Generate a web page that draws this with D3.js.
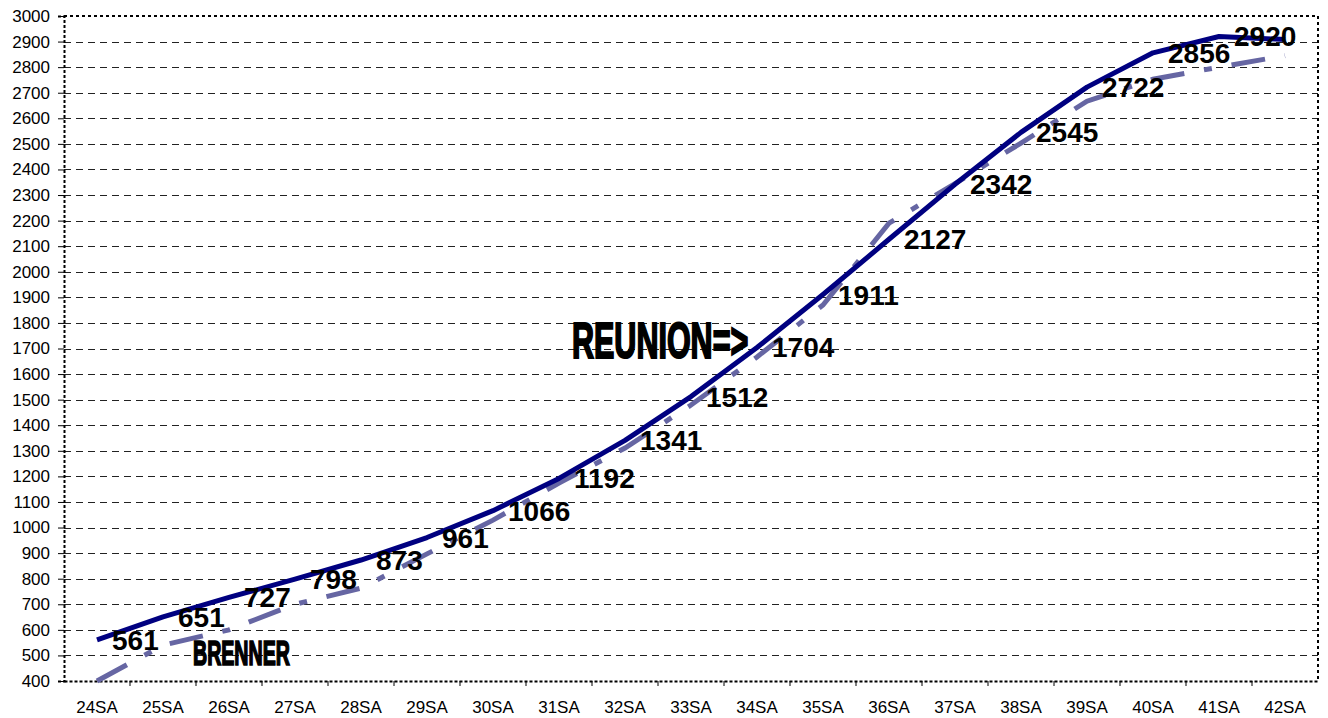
<!DOCTYPE html>
<html>
<head>
<meta charset="utf-8">
<script src="https://cdn.jsdelivr.net/npm/d3@7"></script>
<style>
  body { margin: 0; background: #fff; }
  svg { display: block; font-family: Arial, "Liberation Sans", sans-serif; }
</style>
</head>
<body>
<script>
// weeks of pregnancy
const weeks = ["24SA","25SA","26SA","27SA","28SA","29SA","30SA","31SA","32SA","33SA",
               "34SA","35SA","36SA","37SA","38SA","39SA","40SA","41SA","42SA"];
// reference curve (solid) and second curve (dashed)
const reference = [561, 651, 727, 798, 873, 961, 1066, 1192, 1341, 1512,
                   1704, 1911, 2127, 2342, 2545, 2722, 2856, 2920, 2908];
const brenner = [400, 540, 600, 700, 763, 897, 1029, 1174, 1311, 1479,
                 1667, 1870, 2190, 2345, 2503, 2667, 2753, 2800, 2845];
// value labels shown on the solid curve (last one has none)
const labels = ["561","651","727","798","873","961","1066","1192","1341","1512",
                "1704","1911","2127","2342","2545","2722","2856","2920",""];
const yTicks = d3.range(400, 3001, 100);

const width = 1328, height = 718;
const margin = {top: 16, right: 10, bottom: 37, left: 64};

const svg = d3.select("body").append("svg")
    .attr("width", width)
    .attr("height", height);

const x = d3.scaleBand()
    .domain(weeks)
    .range([margin.left, width - margin.right])
    .padding(0);

const y = d3.scaleLinear()
    .domain([400, 3000])
    .range([height - margin.bottom, margin.top]);

const cx = d => x(d) + x.bandwidth() / 2;

// grid lines
svg.append("g")
    .selectAll("line")
    .data(yTicks.filter(v => v > 400 && v < 3000))
    .enter()
    .append("line")
    .attr("x1", margin.left)
    .attr("x2", width - margin.right)
    .attr("y1", d => Math.round(y(d)) + 0.5)
    .attr("y2", d => Math.round(y(d)) + 0.5)
    .attr("stroke", "#222")
    .attr("stroke-dasharray", "7,5");

// plot border (top / right) dotted
svg.append("path")
    .attr("d", `M${margin.left},${y(3000)}H${width - margin.right}V${y(400)}`)
    .attr("fill", "none")
    .attr("stroke", "#000")
    .attr("stroke-width", 2)
    .attr("stroke-dasharray", "3,3");

// y axis
const yAxis = svg.append("g")
    .attr("transform", `translate(${margin.left},0)`)
    .call(d3.axisLeft(y).tickValues(yTicks).tickSize(6).tickPadding(8).tickFormat(d3.format("d")));
yAxis.select(".domain").attr("stroke-width", 2).attr("stroke-dasharray", "3,2");
yAxis.selectAll("text").attr("font-size", 17).attr("fill", "#000")
    .attr("font-family", "Arial, 'Liberation Sans', sans-serif");

// x axis
const xAxis = svg.append("g")
    .attr("transform", `translate(0,${y(400)})`)
    .call(d3.axisBottom(x).tickSize(0).tickPadding(20));
xAxis.select(".domain").attr("stroke-width", 2).attr("stroke-dasharray", "3,2");
xAxis.selectAll("text").attr("font-size", 17).attr("fill", "#000")
    .attr("font-family", "Arial, 'Liberation Sans', sans-serif");
xAxis.selectAll(".bnd")
    .data(weeks.slice(1))
    .enter()
    .append("line")
    .attr("class", "bnd")
    .attr("x1", d => x(d))
    .attr("x2", d => x(d))
    .attr("y1", 0)
    .attr("y2", 5)
    .attr("stroke", "#000");

const line = d3.line()
    .x((d, i) => cx(weeks[i]))
    .y(d => y(d));

// dashed series
svg.append("path")
    .datum(brenner)
    .attr("d", line)
    .attr("fill", "none")
    .attr("stroke", "#6666a3")
    .attr("stroke-width", 5)
    .attr("stroke-dasharray", "34,20,8,20");

// solid series
svg.append("path")
    .datum(reference)
    .attr("d", line)
    .attr("fill", "none")
    .attr("stroke", "#000080")
    .attr("stroke-width", 5)
    .attr("stroke-linejoin", "round");

// value labels
svg.append("g")
    .selectAll("text")
    .data(reference)
    .enter()
    .append("text")
    .attr("x", (d, i) => cx(weeks[i]) + 15)
    .attr("y", d => y(d) + 10)
    .attr("font-size", 28)
    .attr("font-weight", "bold")
    .attr("fill", "#000")
    .text((d, i) => labels[i]);

// annotations (condensed, tall lettering)
svg.append("text")
    .attr("transform", `translate(${x("26SA") - 3},${y(462)}) scale(1,1.75)`)
    .attr("font-size", 19.6)
    .attr("font-weight", "bold")
    .attr("stroke", "#000")
    .attr("stroke-width", 1)
    .text("BRENNER");

svg.append("text")
    .attr("transform", `translate(${cx("31SA") + 13},${y(1663)}) scale(1,1.65)`)
    .attr("font-size", 30.5)
    .attr("font-weight", "bold")
    .attr("stroke", "#000")
    .attr("stroke-width", 1.3)
    .text("REUNION=>");
</script>
</body>
</html>
